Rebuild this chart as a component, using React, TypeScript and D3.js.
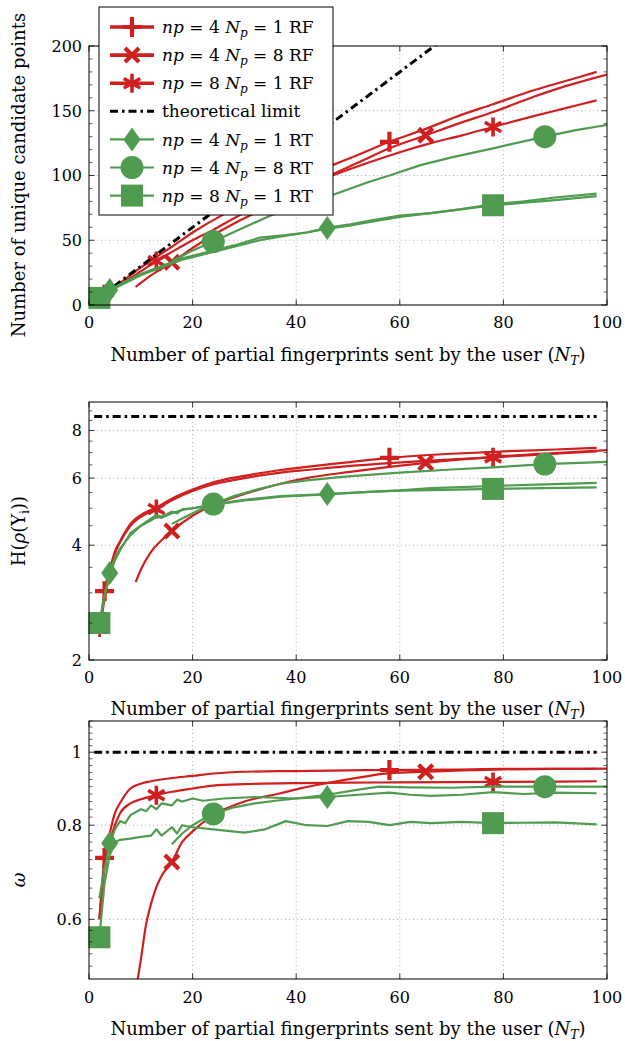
import React from 'react';
import * as d3 from 'd3';

type Pt = [number, number];

const RED = '#d01f1f';
const GREEN = '#4f9b4f';
const FONT = '"DejaVu Serif", "Liberation Serif", serif';

const X0 = 89;
const X1 = 607;

const xTickValues = [0, 20, 40, 60, 80, 100];
const p1YTicks = [0, 50, 100, 150, 200];
const p2YTicks = [2, 4, 6, 8];
const p3YTicks = [0.6, 0.8, 1];

// marker positions (NT values) per series
const plusMarkX = [3, 58];
const crossMarkX = [16, 65];
const starMarkX = [13, 78];
const diamondMarkX = [4, 46];
const circleMarkX = [24, 88];
const squareMarkX = [2, 78];

// ---------- Panel 1: number of unique candidate points ----------
const p1Plus: Pt[] = [[2,5],[3,8],[5,14],[8,23],[10,29],[13,37],[16,45],[20,56],[26,70],[30,78],[36,90],[42,100],[47,108],[52,116],[58,126],[65,136],[72,147],[78,155],[86,166],[92,173],[98,180]];
const p1Cross: Pt[] = [[9,14],[10,17],[12,23],[14,28],[16,33],[20,44],[24,54],[28,63],[31,69],[36,79],[42,91],[47,101],[52,110],[58,121],[65,131],[72,141],[78,149],[86,161],[92,169],[100,178]];
const p1Star: Pt[] = [[2,5],[3,8],[5,13],[8,21],[10,26],[13,34],[16,41],[20,50],[24,58],[28,67],[32,75],[38,86],[47,100],[54,110],[60,118],[66,125],[72,131],[78,137.5],[86,146],[92,152],[98,158]];
const p1Limit: Pt[] = [[2,6],[100,300]];
const p1Diamond: Pt[] = [[2,5],[3,8],[4,11.6],[6,16],[8,20],[10,24],[12,27],[14,30],[16,33],[18,36],[20,38],[24,42],[28,46],[33,52],[38,54],[42,56],[46,59.5],[50,62],[54,65],[60,69],[66,71],[72,74],[78,78],[84,80],[90,83],[98,86]];
const p1Circle: Pt[] = [[16,34],[20,42],[24,49],[30,60],[35,69],[41,78],[47,85],[54,95],[58,100],[64,108],[70,114],[78,121],[88,130],[94,135],[100,139]];
const p1Square: Pt[] = [[2,5.5],[3,8],[4,11],[6,15],[8,19],[10,23],[12,26],[14,29],[16,32],[18,35],[20,37],[24,41],[28,45],[33,50],[38,53.5],[42,56],[46,59],[50,61],[54,64],[60,68],[66,71],[72,74],[78,77],[84,79],[90,81],[98,84]];

// ---------- Panel 2: entropy H(rho(Y_i)) ----------
const p2Plus: Pt[] = [[2,2.3],[3,3.03],[4,3.45],[5,3.85],[6,4.1],[8,4.55],[10,4.8],[13,5.02],[16,5.3],[20,5.6],[24,5.85],[30,6.08],[37,6.3],[42,6.42],[50,6.6],[58,6.78],[70,6.95],[80,7.05],[90,7.13],[98,7.2]];
const p2Cross: Pt[] = [[9,3.2],[10,3.45],[12,3.85],[14,4.12],[16,4.36],[20,4.78],[24,5.1],[30,5.45],[37,5.8],[42,6.0],[50,6.22],[58,6.42],[65,6.58],[78,6.82],[90,6.98],[100,7.1]];
const p2Star: Pt[] = [[2,2.3],[3,2.9],[4,3.35],[5,3.8],[6,4.07],[8,4.5],[10,4.75],[13,4.98],[16,5.25],[20,5.55],[24,5.78],[30,6.0],[37,6.2],[42,6.3],[50,6.45],[58,6.57],[65,6.66],[78,6.8],[90,6.95],[98,7.05]];
const p2Limit: Pt[] = [[1,8.7],[98,8.7]];
const p2Diamond: Pt[] = [[2,2.45],[3,2.95],[4,3.38],[5,3.7],[6,3.92],[8,4.25],[10,4.5],[12,4.65],[13,4.75],[14,4.72],[16,4.85],[18,4.95],[20,5.0],[24,5.12],[30,5.26],[37,5.38],[46,5.45],[54,5.52],[60,5.57],[66,5.65],[78,5.72],[88,5.78],[98,5.83]];
const p2Circle: Pt[] = [[16,4.55],[18,4.7],[20,4.85],[22,5.0],[24,5.13],[28,5.38],[32,5.58],[37,5.8],[42,5.92],[50,6.06],[60,6.2],[70,6.32],[78,6.4],[88,6.53],[100,6.62]];
const p2Square: Pt[] = [[2,2.5],[3,2.95],[4,3.35],[5,3.65],[6,3.88],[8,4.3],[10,4.5],[12,4.7],[13,4.8],[14,4.75],[16,4.9],[17,4.85],[18,4.97],[20,5.0],[24,5.1],[30,5.24],[37,5.36],[46,5.44],[54,5.52],[60,5.56],[66,5.58],[78,5.62],[88,5.65],[98,5.67]];

// ---------- Panel 3: omega ----------
const p3Plus: Pt[] = [[2,0.6],[3,0.724],[4,0.78],[5,0.83],[6,0.856],[8,0.895],[10,0.908],[12,0.915],[16,0.924],[20,0.93],[24,0.937],[30,0.942],[40,0.944],[50,0.946],[58,0.947],[70,0.948],[80,0.95],[98,0.95]];
const p3Cross: Pt[] = [[9,0.48],[10,0.53],[11,0.59],[12,0.63],[13,0.662],[14,0.685],[16,0.715],[18,0.76],[20,0.785],[24,0.825],[30,0.86],[37,0.882],[41,0.896],[46,0.91],[52,0.925],[58,0.938],[65,0.942],[72,0.946],[80,0.949],[90,0.95],[100,0.951]];
const p3Star: Pt[] = [[2,0.6],[3,0.7],[4,0.76],[5,0.8],[6,0.83],[8,0.855],[10,0.866],[13,0.877],[16,0.886],[20,0.895],[24,0.903],[30,0.907],[40,0.91],[50,0.911],[60,0.912],[78,0.913],[98,0.915]];
const p3Limit: Pt[] = [[1,1],[98,1]];
const p3Diamond: Pt[] = [[2,0.64],[3,0.7],[4,0.757],[5,0.79],[6,0.81],[7,0.805],[8,0.825],[10,0.84],[11,0.835],[12,0.85],[13,0.84],[14,0.855],[16,0.85],[17,0.865],[18,0.86],[20,0.868],[22,0.862],[26,0.868],[32,0.872],[40,0.868],[46,0.872],[52,0.878],[58,0.884],[62,0.878],[66,0.875],[72,0.878],[78,0.885],[84,0.88],[90,0.884],[98,0.882]];
const p3Circle: Pt[] = [[16,0.755],[18,0.78],[20,0.8],[22,0.815],[24,0.828],[28,0.845],[32,0.855],[36,0.862],[40,0.868],[46,0.878],[52,0.892],[56,0.9],[62,0.898],[70,0.897],[78,0.9],[88,0.9],[100,0.9]];
const p3Square: Pt[] = [[2,0.568],[3,0.67],[4,0.73],[5,0.76],[6,0.765],[8,0.768],[10,0.772],[12,0.775],[13,0.79],[14,0.775],[16,0.795],[17,0.78],[18,0.8],[20,0.795],[24,0.79],[30,0.782],[34,0.79],[38,0.81],[42,0.8],[46,0.798],[50,0.81],[54,0.808],[58,0.8],[62,0.808],[66,0.805],[72,0.808],[78,0.805],[84,0.806],[90,0.807],[98,0.802]];

// legend
const legendNp = [4, 4, 8, 0, 4, 4, 8];
const legendNpSub = [1, 8, 1, 0, 1, 8, 1];
const legendKind = ['RF', 'RF', 'RF', 'limit', 'RT', 'RT', 'RT'];
const legendMarker = ['plus', 'cross', 'star', 'none', 'diamond', 'circle', 'square'];

type Series = { data: Pt[]; color: string; marker: string; marks: number[]; smooth: boolean };

function Marker({ type, cx, cy, color }: { type: string; cx: number; cy: number; color: string }) {
  const t = `translate(${cx},${cy})`;
  if (type === 'plus')
    return <path transform={t} d="M-9.5,0H9.5M0,-10V10" stroke={color} strokeWidth={4.2} fill="none" />;
  if (type === 'cross')
    return <path transform={t} d="M-7,-7L7,7M-7,7L7,-7" stroke={color} strokeWidth={4.2} fill="none" />;
  if (type === 'star')
    return <path transform={t} d="M0,-9.5V9.5M-8.2,-4.75L8.2,4.75M-8.2,4.75L8.2,-4.75" stroke={color} strokeWidth={3.6} fill="none" />;
  if (type === 'diamond')
    return <path transform={t} d="M0,-12L8.5,0L0,12L-8.5,0Z" fill={color} />;
  if (type === 'circle') return <circle cx={cx} cy={cy} r={11.5} fill={color} />;
  if (type === 'square') return <rect x={cx - 11} y={cy - 11} width={22} height={22} fill={color} />;
  return null;
}

function valueAt(data: Pt[], xv: number): number {
  const f = data.find((d) => d[0] === xv);
  if (f) return f[1];
  const i = d3.bisector((d: Pt) => d[0]).left(data, xv);
  const a = data[Math.max(0, i - 1)], b = data[Math.min(data.length - 1, i)];
  if (a[0] === b[0]) return a[1];
  return a[1] + ((b[1] - a[1]) * (xv - a[0])) / (b[0] - a[0]);
}

const x = d3.scaleLinear().domain([0, 100]).range([X0, X1]);

function Panel(props: {
  id: string;
  y: any;
  yTicks: number[];
  yFmt: (v: number) => string;
  minorY: number[];
  red: Series[];
  green: Series[];
  limit: Pt[];
  ylabel: React.ReactNode;
  ylabelPos: [number, number];
  tickLabelY: number;
  xlabelY: number;
}) {
  const { id, y } = props;
  const [yb, yt] = y.range();
  const top = Math.min(yb, yt);
  const bottom = Math.max(yb, yt);
  const lineLin = d3.line<Pt>().x((d) => x(d[0])).y((d) => y(d[1]));
  const lineSmooth = d3.line<Pt>().x((d) => x(d[0])).y((d) => y(d[1])).curve(d3.curveMonotoneX);
  const drawSeries = (s: Series, k: number) => (
    <g key={k}>
      <path d={(s.smooth ? lineSmooth : lineLin)(s.data) || ''} fill="none" stroke={s.color} strokeWidth={2.2} clipPath={`url(#clip-${id})`} strokeLinejoin="round" />
      {s.marks.map((mx, j) => (
        <Marker key={j} type={s.marker} cx={x(mx)} cy={y(valueAt(s.data, mx))} color={s.color} />
      ))}
    </g>
  );
  return (
    <g>
      <defs>
        <clipPath id={`clip-${id}`}>
          <rect x={X0} y={top} width={X1 - X0} height={bottom - top} />
        </clipPath>
      </defs>
      {/* grid */}
      {xTickValues.filter((v) => v > 0 && v < 100).map((v) => (
        <line key={'gx' + v} x1={x(v)} x2={x(v)} y1={top} y2={bottom} stroke="#9a9a9a" strokeWidth={0.8} strokeDasharray="1 3" />
      ))}
      {props.yTicks.map((v) => (
        <line key={'gy' + v} x1={X0} x2={X1} y1={y(v)} y2={y(v)} stroke="#9a9a9a" strokeWidth={0.8} strokeDasharray="1 3" />
      ))}
      {/* series */}
      {props.red.map(drawSeries)}
      <path d={lineLin(props.limit) || ''} fill="none" stroke="#000" strokeWidth={3} strokeDasharray="8 4 2.5 4" clipPath={`url(#clip-${id})`} />
      {props.green.map((s, k) => drawSeries(s, k + 10))}
      {/* frame */}
      <rect x={X0} y={top} width={X1 - X0} height={bottom - top} fill="none" stroke="#000" strokeWidth={1} />
      {/* ticks */}
      {xTickValues.map((v) => (
        <g key={'tx' + v}>
          <line x1={x(v)} x2={x(v)} y1={bottom} y2={bottom - 5.5} stroke="#000" strokeWidth={0.8} />
          <line x1={x(v)} x2={x(v)} y1={top} y2={top + 5.5} stroke="#000" strokeWidth={0.8} />
          <text x={x(v)} y={props.tickLabelY} textAnchor="middle" fontSize={16} fontFamily={FONT}>{v}</text>
        </g>
      ))}
      {props.minorY.map((v, i) => (
        <g key={'my' + i}>
          <line x1={X0} x2={X0 + 3.5} y1={y(v)} y2={y(v)} stroke="#000" strokeWidth={0.6} />
          <line x1={X1} x2={X1 - 3.5} y1={y(v)} y2={y(v)} stroke="#000" strokeWidth={0.6} />
        </g>
      ))}
      {props.yTicks.map((v) => (
        <g key={'ty' + v}>
          <line x1={X0} x2={X0 + 5.5} y1={y(v)} y2={y(v)} stroke="#000" strokeWidth={0.8} />
          <line x1={X1} x2={X1 - 5.5} y1={y(v)} y2={y(v)} stroke="#000" strokeWidth={0.8} />
          <text x={X0 - 7} y={y(v)} dy="0.36em" textAnchor="end" fontSize={16} fontFamily={FONT}>{props.yFmt(v)}</text>
        </g>
      ))}
      {/* labels */}
      <text x={(X0 + X1) / 2} y={props.xlabelY} textAnchor="middle" fontSize={18} fontFamily={FONT}>
        {'Number of partial fingerprints sent by the user ('}
        <tspan fontStyle="italic">N</tspan>
        <tspan fontStyle="italic" fontSize={12.5} dy={4}>T</tspan>
        <tspan dy={-4}>{')'}</tspan>
      </text>
      <text transform={`translate(${props.ylabelPos[0]},${props.ylabelPos[1]}) rotate(-90)`} textAnchor="middle" fontSize={18} fontFamily={FONT}>
        {props.ylabel}
      </text>
    </g>
  );
}

function Legend() {
  const lx = 99, ly = 7, lw = 234, lh = 208;
  const rows = legendKind.map((_, i) => 27 + i * 28.1);
  return (
    <g>
      <rect x={lx} y={ly} width={lw} height={lh} fill="#fff" stroke="#000" strokeWidth={1} />
      {legendKind.map((kind, i) => {
        const yy = rows[i];
        const color = kind === 'RF' ? RED : kind === 'RT' ? GREEN : '#000';
        return (
          <g key={i}>
            {kind === 'limit' ? (
              <line x1={110} x2={154} y1={yy} y2={yy} stroke="#000" strokeWidth={3} strokeDasharray="8 4 2.5 4" />
            ) : (
              <line x1={110} x2={154} y1={yy} y2={yy} stroke={color} strokeWidth={kind === 'RF' ? 3.6 : 2.2} />
            )}
            <Marker type={legendMarker[i]} cx={132} cy={yy} color={color} />
            {kind === 'limit' ? (
              <text x={162} y={yy} dy="0.36em" fontSize={17} fontFamily={FONT}>theoretical limit</text>
            ) : (
              <text x={162} y={yy} dy="0.36em" fontSize={17} fontFamily={FONT}>
                <tspan fontStyle="italic">np</tspan>
                {` = ${legendNp[i]} `}
                <tspan fontStyle="italic">N</tspan>
                <tspan fontStyle="italic" fontSize={12} dy={4}>p</tspan>
                <tspan dy={-4}>{` = ${legendNpSub[i]} ${kind}`}</tspan>
              </text>
            )}
          </g>
        );
      })}
    </g>
  );
}

export default function App() {
  const y1 = d3.scaleLinear().domain([0, 200]).range([305, 46]);
  const y2 = d3.scaleLog().domain([2, 9.5]).range([660, 402]);
  const y3 = d3.scaleLog().domain([0.5, 1.1]).range([979, 721]);

  const mk = (plus: Pt[], cross: Pt[], star: Pt[], dia: Pt[], cir: Pt[], sq: Pt[]) => ({
    red: [
      { data: plus, color: RED, marker: 'plus', marks: plusMarkX, smooth: true },
      { data: cross, color: RED, marker: 'cross', marks: crossMarkX, smooth: true },
      { data: star, color: RED, marker: 'star', marks: starMarkX, smooth: true },
    ],
    green: [
      { data: dia, color: GREEN, marker: 'diamond', marks: diamondMarkX, smooth: false },
      { data: cir, color: GREEN, marker: 'circle', marks: circleMarkX, smooth: false },
      { data: sq, color: GREEN, marker: 'square', marks: squareMarkX, smooth: false },
    ],
  });
  const s1 = mk(p1Plus, p1Cross, p1Star, p1Diamond, p1Circle, p1Square);
  const s2 = mk(p2Plus, p2Cross, p2Star, p2Diamond, p2Circle, p2Square);
  const s3 = mk(p3Plus, p3Cross, p3Star, p3Diamond, p3Circle, p3Square);

  return (
    <svg width={625} height={1041} style={{ position: 'absolute', left: 0, top: 0, background: '#fff' }}>
      <rect x={0} y={0} width={625} height={1041} fill="#fff" />
      <Panel
        id="p1" y={y1} yTicks={p1YTicks} yFmt={(v) => String(v)}
        minorY={d3.range(0, 201, 10).filter((v) => v % 50 !== 0)}
        red={s1.red} green={s1.green} limit={p1Limit}
        ylabel={'Number of unique candidate points'} ylabelPos={[25, 175]}
        tickLabelY={328} xlabelY={361}
      />
      <Panel
        id="p2" y={y2} yTicks={p2YTicks} yFmt={(v) => String(v)}
        minorY={d3.range(2.5, 9.5, 0.5).filter((v) => v % 2 !== 0)}
        red={s2.red} green={s2.green} limit={p2Limit}
        ylabel={<>{'H('}<tspan fontStyle="italic">ρ</tspan>{'(Y'}<tspan fontSize={12.5} dy={4}>i</tspan><tspan dy={-4}>{'))'}</tspan></>}
        ylabelPos={[25, 531]}
        tickLabelY={683} xlabelY={715}
      />
      <Panel
        id="p3" y={y3} yTicks={p3YTicks} yFmt={(v) => String(v)}
        minorY={d3.range(0.52, 1.1, 0.02).filter((v) => Math.abs((v * 10) % 2) > 0.05 && Math.abs((v * 10) % 2 - 2) > 0.05)}
        red={s3.red} green={s3.green} limit={p3Limit}
        ylabel={<tspan fontStyle="italic">ω</tspan>}
        ylabelPos={[25, 880]}
        tickLabelY={1003} xlabelY={1035}
      />
      <Legend />
    </svg>
  );
}
